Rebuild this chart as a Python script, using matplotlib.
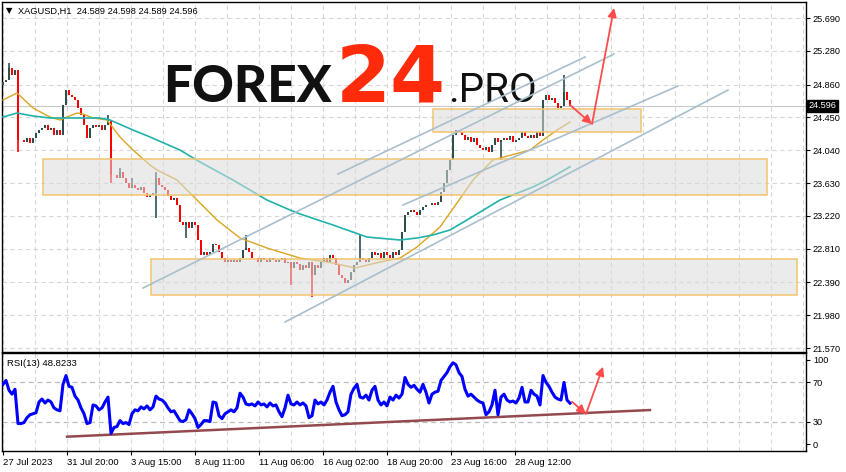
import numpy as np
import matplotlib
matplotlib.use('Agg')
import matplotlib.pyplot as plt
from matplotlib.patches import Rectangle
from matplotlib.ticker import MultipleLocator

# цены закрытия (одна свеча на 3 часовых бара)
closes = [
    24.891, 24.916, 25.066, 24.979, 25.041, 24.167, 24.167, 24.142, 24.192, 24.130,
    24.192, 24.255, 24.292, 24.317, 24.355, 24.292, 24.317, 24.230, 24.292, 24.230,
    24.604, 24.791, 24.729, 24.704, 24.667, 24.567, 24.479, 24.355, 24.192, 24.317,
    24.355, 24.330, 24.355, 24.292, 24.355, 24.417, 23.730, 23.730, 23.693, 23.768,
    23.693, 23.630, 23.568, 23.606, 23.568, 23.543, 23.581, 23.506, 23.456, 23.481,
    23.506, 23.693, 23.606, 23.581, 23.543, 23.468, 23.418, 23.443, 23.356, 23.144,
    23.106, 23.144, 23.069, 23.144, 23.106, 22.919, 22.732, 22.769, 22.732, 22.769,
    22.869, 22.857, 22.769, 22.694, 22.644, 22.669, 22.644, 22.669, 22.644, 22.694,
    22.794, 22.819, 22.769, 22.694, 22.694, 22.644, 22.694, 22.669, 22.644, 22.694,
    22.669, 22.644, 22.669, 22.694, 22.632, 22.644, 22.569, 22.644, 22.619, 22.544,
    22.607, 22.569, 22.644, 22.482, 22.607, 22.569, 22.644, 22.694, 22.644, 22.732,
    22.694, 22.607, 22.482, 22.444, 22.382, 22.419, 22.519, 22.607, 22.644, 22.694,
    22.669, 22.644, 22.694, 22.769, 22.732, 22.757, 22.694, 22.769, 22.732, 22.694,
    22.769, 22.732, 22.794, 23.019, 23.231, 23.269, 23.294, 23.269, 23.231, 23.294,
    23.331, 23.356, 23.356, 23.381, 23.356, 23.393, 23.518, 23.630, 23.793, 23.918,
    24.230, 24.292, 24.267, 24.230, 24.167, 24.205, 24.142, 24.192, 24.105, 24.067,
    24.042, 24.080, 24.017, 24.105, 24.192, 24.142, 24.167, 24.192, 24.167, 24.217,
    24.142, 24.167, 24.192, 24.267, 24.217, 24.192, 24.230, 24.192, 24.267, 24.217,
    24.667, 24.729, 24.667, 24.692, 24.629, 24.567, 24.592, 24.766, 24.667, 24.596,
]
# заметные тени
wick_high = {2: 25.129, 35: 24.479, 39: 23.818, 43: 23.693, 51: 23.768,
             81: 22.982, 119: 22.982, 187: 24.979}
wick_low = {5: 24.017, 36: 23.630, 51: 23.194, 61: 22.944, 96: 22.357,
            103: 22.207, 166: 23.918}

rsi = [
    68, 72, 62, 58, 63, 28, 28, 29, 34, 37,
    38, 39, 50, 53, 49, 52, 50, 44, 42, 41,
    68, 77, 66, 65, 56, 52, 44, 38, 28, 29,
    47, 46, 42, 44, 50, 55, 18, 24, 25, 31,
    28, 29, 27, 38, 42, 41, 45, 43, 46, 42,
    45, 56, 53, 52, 49, 44, 40, 41, 36, 31,
    30, 32, 42, 38, 33, 24, 27, 31, 31, 30,
    50, 49, 36, 33, 38, 40, 42, 40, 44, 59,
    55, 48, 47, 48, 46, 50, 47, 48, 45, 49,
    46, 47, 40, 35, 44, 57, 48, 47, 50, 47,
    49, 46, 34, 36, 52, 48, 50, 47, 52, 60,
    66, 50, 42, 36, 37, 40, 58, 64, 68, 55,
    54, 57, 52, 62, 66, 52, 47, 50, 46, 55,
    52, 57, 54, 58, 75, 68, 65, 67, 63, 60,
    68, 60, 49, 58, 60, 61, 72, 76, 80, 86,
    90, 88, 80, 76, 63, 56, 58, 55, 52, 50,
    49, 37, 40, 47, 62, 37, 55, 58, 52, 50,
    51, 49, 54, 65, 50, 50, 62, 58, 56, 47,
    77, 70, 66, 60, 55, 53, 52, 70, 52, 48.8,
]

# скользящие средние (бар, цена)
ma_fast_x = [0, 14, 30, 47, 57, 64, 74, 80, 90, 104, 117, 130, 147, 154, 174, 197, 214,
             237, 264, 297, 330, 352, 377, 397, 414, 437, 454, 470, 490, 512, 527, 540, 554, 567]
ma_fast = [24.667, 24.754, 24.567, 24.454, 24.417, 24.454, 24.504, 24.492, 24.442, 24.417,
           24.205, 24.042, 23.855, 23.793, 23.668, 23.381, 23.169, 22.944, 22.819, 22.694,
           22.632, 22.569, 22.644, 22.694, 22.832, 23.081, 23.381, 23.668, 23.918, 23.993,
           24.042, 24.167, 24.292, 24.392]
ma_slow_x = [0, 14, 30, 47, 64, 80, 97, 107, 130, 147, 177, 197, 230, 264, 287, 297, 330,
             364, 397, 414, 430, 447, 464, 497, 530, 544, 567]
ma_slow = [24.454, 24.504, 24.467, 24.442, 24.442, 24.442, 24.442, 24.417, 24.292, 24.205,
           24.042, 23.893, 23.668, 23.418, 23.294, 23.244, 23.106, 22.956, 22.919, 22.944,
           22.982, 23.044, 23.169, 23.418, 23.581, 23.668, 23.833]

# зоны и канал
zones = [(430, 638, 24.267, 24.554), (40, 764, 23.477, 23.926), (148, 794, 22.229, 22.678)]
channels = [((335, 23.743), (582, 25.203)), ((140, 22.320), (611, 25.241)),
            ((400, 23.356), (675, 24.841)), ((282, 21.895), (725, 24.791))]
arrows_price = [((567, 24.604), (589, 24.367)), ((589, 24.367), (611, 25.815))]
arrows_rsi = [((569, 50.3), (583, 37.8)), ((583, 37.8), (600, 86))]
rsi_trend = ((64, 14.6), (647, 41.8))

price_ticks = [21.570, 21.980, 22.390, 22.810, 23.220, 23.630, 24.040, 24.450, 24.860, 25.280, 25.690]
time_labels = ['27 Jul 2023', '31 Jul 20:00', '3 Aug 15:00', '8 Aug 11:00', '11 Aug 06:00',
               '16 Aug 02:00', '18 Aug 20:00', '23 Aug 16:00', '28 Aug 12:00']
last_price = 24.596

plt.rcParams['font.family'] = ['Liberation Sans', 'DejaVu Sans']

W, H = 846, 472
fig = plt.figure(figsize=(W / 100, H / 100), dpi=100)
ax = fig.add_axes([2 / W, 120 / H, 804 / W, 350 / H])
axr = fig.add_axes([2 / W, 21 / H, 804 / W, 98 / H], sharex=ax)

grid_kw = dict(color='#d6d6d6', ls=(0, (4, 3)), lw=0.8)

# свечи
x = np.arange(len(closes)) * 3
c = np.array(closes)
o = np.concatenate([[24.85], c[:-1]])
hi = np.maximum(o, c)
lo = np.minimum(o, c)
for k, v in wick_high.items():
    hi[k] = max(hi[k], v)
for k, v in wick_low.items():
    lo[k] = min(lo[k], v)
col = np.where(c >= o, '#2f4f4f', '#ff0000')
ax.vlines(x, lo, hi, colors=col, lw=1.2, zorder=3)
ax.bar(x, np.abs(c - o), bottom=np.minimum(o, c), width=2.7, color=col, lw=0, zorder=3)

ax.plot(ma_fast_x, ma_fast, color='#daa520', lw=1, zorder=3.5)
ax.plot(ma_slow_x, ma_slow, color='#20b2aa', lw=1.2, zorder=3.5)

for x0, x1, y0, y1 in zones:
    ax.add_patch(Rectangle((x0, y0), x1 - x0, y1 - y0, facecolor=(0.86, 0.86, 0.86, 0.55),
                           edgecolor='#f2c46d', lw=1.1, zorder=4))

for (x0, y0), (x1, y1) in channels:
    ax.plot([x0, x1], [y0, y1], color='#a9bfcc', lw=1.2, zorder=5)

for (x0, y0), (x1, y1) in arrows_price:
    ax.annotate('', xy=(x1, y1), xytext=(x0, y0), zorder=6,
                arrowprops=dict(arrowstyle='-|>', color='#ff4b4b', lw=1.3,
                                mutation_scale=13, shrinkA=0, shrinkB=0))

ax.axhline(last_price, color='#c8c8c8', lw=0.8, zorder=2)

ax.set_xlim(-1, 803)
ax.set_ylim(21.521, 25.890)
ax.set_yticks(price_ticks)
ax.set_yticklabels([f'{t:.3f}' for t in price_ticks])
ax.yaxis.tick_right()
ax.tick_params(axis='y', length=3, width=0.8, pad=2, labelsize=6.6, colors='black')
ax.tick_params(axis='x', length=0, labelbottom=False)
ax.xaxis.set_major_locator(MultipleLocator(64))
ax.xaxis.set_minor_locator(MultipleLocator(32))
ax.grid(which='both', **grid_kw)
ax.set_axisbelow(True)

# метка текущей цены
ax.text(1.003, last_price, f'{last_price:.3f}', transform=ax.get_yaxis_transform(),
        color='white', fontsize=6.6, va='center', ha='left',
        bbox=dict(boxstyle='square,pad=0.15', fc='black', ec='black'), zorder=7, clip_on=False)

# водяной знак
ax.text(163 / W, 1 - 102 / H, 'FOREX', transform=fig.transFigure, fontsize=37,
        family='Lato', weight='black', color='#111111', va='baseline', zorder=1)
ax.text(336 / W, 1 - 102 / H, '24', transform=fig.transFigure, fontsize=57,
        family='DejaVu Sans', weight='bold', color='#ff2b0b', va='baseline', zorder=1)
ax.text(448 / W, 1 - 102 / H, '.PRO', transform=fig.transFigure, fontsize=29,
        family='Roboto', weight='normal', color='#111111', va='baseline', zorder=1)

ax.text(6 / W, 1 - 11 / H, '\u25bc', transform=fig.transFigure, fontsize=6,
        family='DejaVu Sans', va='center', ha='left')
ax.text(18 / W, 1 - 11 / H, 'XAGUSD,H1  24.589 24.598 24.589 24.596',
        transform=fig.transFigure, fontsize=6.7, va='center', ha='left')

# RSI
xr = np.arange(len(rsi)) * 3
axr.plot(xr, rsi, color='#0000ff', lw=2.2, zorder=3)
(tx0, ty0), (tx1, ty1) = rsi_trend
axr.plot([tx0, tx1], [ty0, ty1], color='#93494d', lw=1.8, zorder=2)
for (x0, y0), (x1, y1) in arrows_rsi:
    axr.annotate('', xy=(x1, y1), xytext=(x0, y0), zorder=6,
                 arrowprops=dict(arrowstyle='-|>', color='#ff4b4b', lw=1.3,
                                 mutation_scale=13, shrinkA=0, shrinkB=0))
axr.set_ylim(0, 100)
axr.axhline(70, color='#bdbdbd', ls=(0, (4, 3)), lw=0.9, zorder=1)
axr.axhline(30, color='#bdbdbd', ls=(0, (4, 3)), lw=0.9, zorder=1)
axr.set_yticks([7, 30, 70, 93])
axr.set_yticklabels(['0', '30', '70', '100'])
axr.yaxis.tick_right()
axr.tick_params(axis='y', length=3, width=0.8, pad=2, labelsize=6.6)
axr.xaxis.set_major_locator(MultipleLocator(64))
axr.xaxis.set_minor_locator(MultipleLocator(32))
axr.grid(which='both', axis='x', **grid_kw)
axr.set_axisbelow(True)
axr.set_xticks(np.arange(len(time_labels)) * 64)
axr.set_xticklabels(time_labels, ha='left')
axr.tick_params(axis='x', which='major', length=3, width=0.8, pad=2, labelsize=6.8)
axr.tick_params(axis='x', which='minor', length=0)
axr.text(7 / W, 1 - 363 / H, 'RSI(13) 48.8233', transform=fig.transFigure,
         fontsize=6.8, va='center', ha='left')

for a in (ax, axr):
    for s in a.spines.values():
        s.set_color('black')
        s.set_linewidth(1)

fig.savefig('out.png', dpi=100)
